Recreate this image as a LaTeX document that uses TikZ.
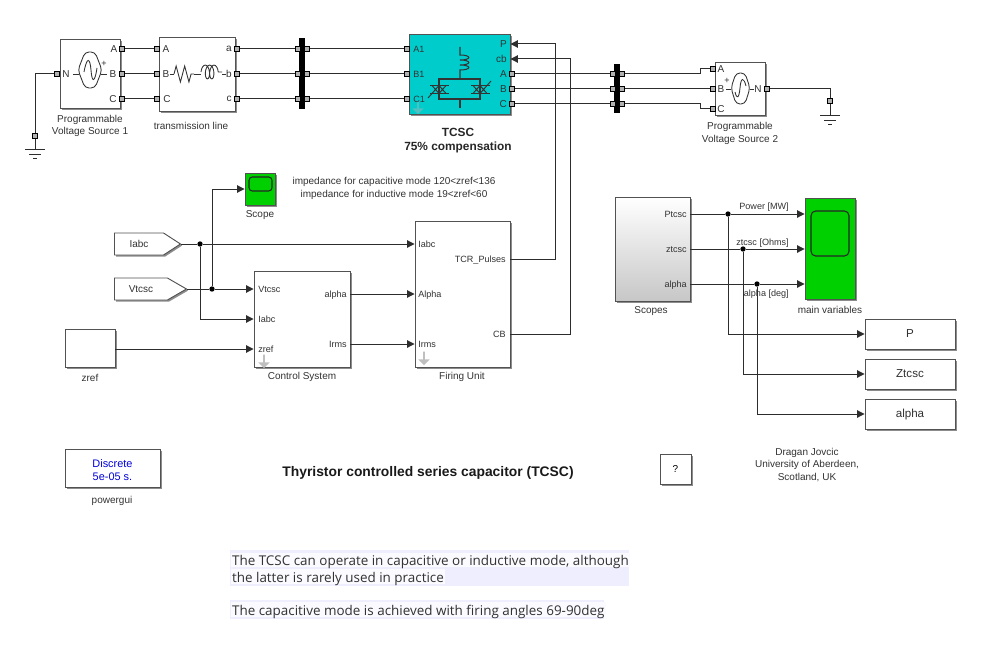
\documentclass[tikz,border=0pt]{standalone}
\usepackage{fontspec}
\setmainfont{Liberation Sans}
\newfontfamily\notefont{Open Sans}
\usetikzlibrary{arrows.meta,calc,shadows,shapes.symbols,shapes.arrows,decorations.pathmorphing}
\definecolor{tcscfill}{RGB}{0,204,204}
\definecolor{scopefill}{RGB}{0,208,0}
\definecolor{wirecol}{RGB}{45,45,45}
\definecolor{textcol}{RGB}{50,50,50}
\definecolor{noteback}{RGB}{238,238,255}
\definecolor{noteglow}{RGB}{250,250,255}
\tikzset{
  wh/.style 2 args={minimum width=#1*0.75pt,minimum height=#2*0.75pt},
  block/.style={draw=black!68,fill=white,rectangle,inner sep=0pt,line width=0.7pt,
    drop shadow={shadow xshift=1.2pt,shadow yshift=-1.2pt,fill=black,opacity=0.45}},
  scopebox/.style={block,fill=scopefill},
  screen/.style={draw=black!85,rectangle,rounded corners=2.5pt,line width=0.8pt,inner sep=0pt},
  gotobox/.style={block,shape=signal,signal to=east,signal from=nowhere,anchor=west},
  port/.style={draw=black,fill=black!30,rectangle,line width=0.9pt,minimum size=3.4pt,inner sep=0pt},
  dot/.style={circle,fill=black,inner sep=0pt,minimum size=4pt},
  busbar/.style={fill=black,rectangle,inner sep=0pt},
  lookunder/.style={shape=single arrow,fill=black!25,rotate=-90,inner sep=0pt,
    minimum width=8.5pt,single arrow head extend=1.2pt,minimum height=10pt},
  lbl/.style={font=\fontsize{7.5}{9}\selectfont,text=textcol,inner sep=0pt,align=center},
  plbl/.style={font=\fontsize{6.8}{8}\selectfont,text=textcol,inner sep=0pt,text height=5.5pt,text depth=0.5pt},
  wire/.style={draw=wirecol,line width=0.75pt},
  sig/.style={wire,-{Triangle[length=5.5pt,width=5.5pt]}},
  icon/.style={draw=black!80,line width=0.65pt},
  notetxt/.style={font=\notefont\fontsize{10.08}{12}\selectfont,text=textcol,anchor=west,inner xsep=1pt,inner ysep=0.3pt,fill=noteglow,text height=9.5pt,text depth=1pt}
}
\begin{document}
\begin{tikzpicture}[x=0.75pt,y=-0.75pt]
  \useasboundingbox (0,0) rectangle (996,667);

  % power circuit
  \node[block,wh={60}{69}] (src1) at (90,73.5) {};
  \node[block,wh={76}{74}] (line) at (197,74) {};
  \node[busbar,wh={6}{71}] (bus1) at (302,73.5) {};
  \node[block,fill=tcscfill,wh={101}{80}] (tcsc) at (459.5,74) {};
  \node[busbar,wh={6}{49}] (bus2) at (617,88.5) {};
  \node[block,wh={50}{53}] (src2) at (740,88.5) {};

  \node[port] (s1n) at (57,74) {};
  \node[port] (s1a) at (122,49) {};
  \node[port] (s1b) at (122,74) {};
  \node[port] (s1c) at (122,99) {};
  \node[port] (la) at (157,49) {};
  \node[port] (lb) at (157,74) {};
  \node[port] (lc) at (157,99) {};
  \node[port] (loa) at (237,49) {};
  \node[port] (lob) at (237,74) {};
  \node[port] (loc) at (237,99) {};
  \node[port] (b1la) at (298,49) {};
  \node[port] (b1lb) at (298,74) {};
  \node[port] (b1lc) at (298,99) {};
  \node[port] (b1ra) at (307,49) {};
  \node[port] (b1rb) at (307,74) {};
  \node[port] (b1rc) at (307,99) {};
  \node[port] (ta1) at (407,49) {};
  \node[port] (tb1) at (407,74) {};
  \node[port] (tc1) at (407,99) {};
  \node[port] (ta) at (512,74) {};
  \node[port] (tb) at (512,89) {};
  \node[port] (tc) at (512,104) {};
  \node[port] (b2la) at (613,74) {};
  \node[port] (b2lb) at (613,89) {};
  \node[port] (b2lc) at (613,104) {};
  \node[port] (b2ra) at (622,74) {};
  \node[port] (b2rb) at (622,89) {};
  \node[port] (b2rc) at (622,104) {};
  \node[port] (s2a) at (713,69) {};
  \node[port] (s2b) at (713,89) {};
  \node[port] (s2c) at (713,109) {};
  \node[port] (s2n) at (767,89) {};
  \node[port] (gnd1) at (35,136) {};
  \node[port] (gnd2) at (830,101) {};

  \draw[wire] (s1n.west)-|(gnd1.north);
  \draw[wire] (s1a.east)--(la.west);
  \draw[wire] (s1b.east)--(lb.west);
  \draw[wire] (s1c.east)--(lc.west);
  \draw[wire] (loa.east)--(b1la.west);
  \draw[wire] (lob.east)--(b1lb.west);
  \draw[wire] (loc.east)--(b1lc.west);
  \draw[wire] (b1ra.east)--(ta1.west);
  \draw[wire] (b1rb.east)--(tb1.west);
  \draw[wire] (b1rc.east)--(tc1.west);
  \draw[wire] (ta.east)--(b2la.west);
  \draw[wire] (tb.east)--(b2lb.west);
  \draw[wire] (tc.east)--(b2lc.west);
  \draw[wire] (b2ra.east)--(700,74)--(700,69)--(s2a.west);
  \draw[wire] (b2rb.east)--(s2b.west);
  \draw[wire] (b2rc.east)--(700,104)--(700,109)--(s2c.west);
  \draw[wire] (s2n.east)-|(gnd2.north);

  % ground symbols
  \draw[wire] (gnd1.south)--(35,149) (25,149)--(45,149) (29,154)--(41,154) (33,158.5)--(37,158.5);
  \draw[wire] (gnd2.south)--(830,115) (820,115)--(840,115) (824,120)--(836,120) (828,124.5)--(832,124.5);

  % source and line icons
  \draw[icon,rounded corners=3pt] (78,70)--(85,52)--(95,52)--(102,70)--(95,88)--(85,88)--cycle;
  \draw[icon] (73,74)--(79,74) (101,74)--(107,74);
  \draw[icon] (84,72) .. controls (87,56) and (90,58) .. (91,70) .. controls (92,84) and (95,82) .. (97,68);
  \node[plbl] (s1plus) at (104,63) {+};
  \draw[icon,rounded corners=3pt] (731,88)--(736,73)--(745,73)--(750,88)--(745,104)--(736,104)--cycle;
  \draw[icon] (726,89)--(731,89) (750,89)--(754,89);
  \draw[icon] (735,92) .. controls (737,100) and (739,98) .. (740,88) .. controls (741,76) and (744,78) .. (746,86);
  \node[plbl] (s2plus) at (727,80) {+};
  \draw[icon] (170,74)--(174,74);
  \draw[icon,decorate,decoration={zigzag,segment length=6.4pt,amplitude=6pt}] (174,74)--(194,74);
  \draw[icon] (194,74)--(201,74) (222,74)--(226,74);
  \draw[icon,decorate,decoration={coil,aspect=0.45,segment length=3.3pt,amplitude=5.2pt}] (201,72)--(222,72);

  % TCSC icon
  \draw[icon,line width=0.8pt] (460,47)--(460,55) to[out=0,in=0,looseness=6] (460,60) to[out=0,in=0,looseness=6] (460,65) to[out=0,in=0,looseness=6] (460,70)--(460,79);
  \draw[icon,line width=0.8pt] (439,79) rectangle (480,99);
  \draw[icon,line width=0.8pt] (460,99)--(460,108);
  \draw[icon,line width=0.7pt] (430,85.5)--(449,85.5) (430,93.5)--(449,93.5) (471,85.5)--(490,85.5) (471,93.5)--(490,93.5);
  \draw[icon,line width=0.7pt] (432,93.5)--(439,85.5)--(446,93.5) (432,85.5)--(439,93.5)--(446,85.5);
  \draw[icon,line width=0.7pt] (473,93.5)--(480,85.5)--(487,93.5) (473,85.5)--(480,93.5)--(487,85.5) (487,85.5)--(491,81);
  \draw[icon,line width=0.7pt] (432,93.5)--(428,98);
  \node[lookunder,fill=black!30,opacity=0.45] (tdown) at (418,107) {};

  % block labels of the power circuit
  \node[lbl] (ls1n) at (66,74) {N};
  \node[lbl] (ls1a) at (114,49) {A};
  \node[lbl] (ls1b) at (113,74) {B};
  \node[lbl] (ls1c) at (113,99) {C};
  \node[lbl] (lla) at (166,49) {A};
  \node[lbl] (llb) at (166,74) {B};
  \node[lbl] (llc) at (167,99) {C};
  \node[lbl] (lloa) at (229,49) {a};
  \node[lbl] (llob) at (229,74) {b};
  \node[lbl] (lloc) at (229,99) {c};
  \node[plbl,anchor=west] (lta1) at (413,49) {A1};
  \node[plbl,anchor=west] (ltb1) at (413,74) {B1};
  \node[plbl,anchor=west] (ltc1) at (413,99) {C1};
  \node[lbl,anchor=east] (ltp) at (507,44) {P};
  \node[lbl,anchor=east] (ltcb) at (507,59) {cb};
  \node[lbl,anchor=east] (lta) at (507,74) {A};
  \node[lbl,anchor=east] (ltb) at (507,89) {B};
  \node[lbl,anchor=east] (ltc) at (507,104) {C};
  \node[lbl] (ls2a) at (721,69) {A};
  \node[lbl] (ls2b) at (721,89) {B};
  \node[lbl] (ls2c) at (721,109) {C};
  \node[lbl] (ls2n) at (758,89) {N};
  \node[lbl] (caps1) at (90,126) {Programmable\\[0.6pt]Voltage Source 1};
  \node[lbl] (capline) at (191,126) {transmission line};
  \node[lbl,font=\fontsize{8.9}{10.5}\selectfont\bfseries,text=black!85] (captcsc) at (458,140.5) {TCSC\\75\% compensation};
  \node[lbl] (caps2) at (740,133.5) {Programmable\\[0.6pt]Voltage Source 2};

  % control part
  \node[scopebox,wh={30}{32}] (scope) at (260,189) {};
  \node[screen,wh={23}{14}] (scr) at (260.5,184) {};
  \node[gotobox,wh={66}{22},signal pointer angle=66] (iabc) at (114,244) {};
  \node[gotobox,wh={72}{22},signal pointer angle=60] (vtcsc) at (114,289) {};
  \node[block,wh={50}{38}] (zref) at (90,348) {};
  \node[block,wh={96}{96}] (cs) at (302,319) {};
  \node[block,wh={95}{146}] (fu) at (462.5,294) {};
  \node[dot] (jiabc) at (200,244) {};
  \node[dot] (jvt) at (212,289) {};
  \node[lookunder] (csdown) at (264,361) {};
  \node[lookunder] (fudown) at (424,358) {};

  \node[lbl] (tiabc) at (139,244) {Iabc};
  \node[lbl] (tvtcsc) at (141,289) {Vtcsc};
  \node[plbl,anchor=west] (csvt) at (258,289) {Vtcsc};
  \node[plbl,anchor=west] (csia) at (258,319) {Iabc};
  \node[plbl,anchor=west] (cszr) at (258,349) {zref};
  \node[plbl,anchor=east] (csal) at (347,294) {alpha};
  \node[plbl,anchor=east] (csir) at (347,344) {Irms};
  \node[plbl,anchor=west] (fuia) at (418,244) {Iabc};
  \node[plbl,anchor=west] (fual) at (418,294) {Alpha};
  \node[plbl,anchor=west] (fuir) at (418,344) {Irms};
  \node[plbl,anchor=east] (futcr) at (506,259) {TCR\_Pulses};
  \node[plbl,anchor=east] (fucb) at (506,334) {CB};

  \draw[wire] (iabc.east)--(jiabc);
  \draw[wire] (vtcsc.east)--(jvt);
  \draw[sig] (jiabc)--(fu.west |- fuia);
  \draw[sig] (jvt)--(cs.west |- csvt);
  \draw[sig] (jvt)|-(scope.west);
  \draw[sig] (jiabc)|-(cs.west |- csia);
  \draw[sig] (zref.east |- cszr)--(cs.west |- cszr);
  \draw[sig] (cs.east |- csal)--(fu.west |- fual);
  \draw[sig] (cs.east |- csir)--(fu.west |- fuir);
  \draw[sig] (fu.east |- futcr)--(555,259)--(555,44)--(tcsc.east |- ltp);
  \draw[sig] (fu.east |- fucb)--(570,334)--(570,59)--(tcsc.east |- ltcb);

  \node[lbl] (capscope) at (260,215) {Scope};
  \node[lbl] (capzref) at (90,378) {zref};
  \node[lbl] (capcs) at (302,377) {Control System};
  \node[lbl] (capfu) at (462,377) {Firing Unit};
  \node[lbl] (imped) at (394,188.5) {impedance for capacitive mode 120<zref<136\\[0.8pt]impedance for inductive mode 19<zref<60};

  % measurements
  \node[block,top color=white,bottom color=black!22,wh={75}{104}] (scopes) at (652.5,249) {};
  \node[scopebox,wh={50}{101}] (mainv) at (830,248.5) {};
  \node[screen,wh={38}{45},rounded corners=3.5pt] (mscr) at (830,233.5) {};
  \node[block,wh={90}{30}] (outp) at (910,334) {};
  \node[block,wh={90}{30}] (outz) at (910,374) {};
  \node[block,wh={90}{30}] (outa) at (910,414) {};
  \node[dot] (jp) at (728,214) {};
  \node[dot] (jz) at (743,249) {};
  \node[dot] (ja) at (757,284) {};
  \node[plbl,anchor=east] (spt) at (687,214) {Ptcsc};
  \node[plbl,anchor=east] (szt) at (687,249) {ztcsc};
  \node[plbl,anchor=east] (sal) at (687,284) {alpha};

  \draw[wire] (scopes.east |- spt)--(jp);
  \draw[wire] (scopes.east |- szt)--(jz);
  \draw[wire] (scopes.east |- sal)--(ja);
  \draw[sig] (jp)--(mainv.west |- jp);
  \draw[sig] (jz)--(mainv.west |- jz);
  \draw[sig] (ja)--(mainv.west |- ja);
  \draw[sig] (jp)|-(outp.west);
  \draw[sig] (jz)|-(outz.west);
  \draw[sig] (ja)|-(outa.west);

  \node[plbl,anchor=east] (npow) at (789,206) {Power [MW]};
  \node[plbl,anchor=east] (nzt) at (789,242) {ztcsc [Ohms]};
  \node[plbl,anchor=east] (nal) at (789,293) {alpha [deg]};
  \node[lbl] (capscopes) at (651,311) {Scopes};
  \node[lbl] (capmain) at (830,310) {main variables};
  \node[lbl,font=\fontsize{8.7}{10}\selectfont] (tp) at (910,334) {P};
  \node[lbl,font=\fontsize{8.7}{10}\selectfont] (tz) at (910,374) {Ztcsc};
  \node[lbl,font=\fontsize{8.7}{10}\selectfont] (ta2) at (910,414) {alpha};

  % bottom texts
  \node[block,wh={95}{38},align=center,font=\fontsize{8.2}{9.8}\selectfont,text={rgb,255:red,0;green,0;blue,220}] (pgui) at (112.5,468) {\rule{0pt}{9pt}Discrete\\5e-05 s.};
  \node[lbl] (cappgui) at (112,500.5) {powergui};
  \node[lbl,font=\fontsize{10.4}{12}\selectfont\bfseries,text=black!90] (title) at (428,473) {Thyristor controlled series capacitor (TCSC)};
  \node[block,wh={31}{30},font=\fontsize{7.5}{9}\selectfont] (help) at (675.5,469) {?};
  \node[lbl] (author) at (807,465) {Dragan Jovcic\\[0.5pt]University of Aberdeen,\\[0.5pt]Scotland, UK};

  \fill[noteback] (230,550) rectangle (629,586);
  \fill[noteback] (230,600) rectangle (604,619);
  \node[notetxt] (note1) at (230.5,560) {The TCSC can operate in capacitive or inductive mode, although};
  \node[notetxt] (note2) at (230.5,576.5) {the latter is rarely used in practice};
  \node[notetxt] (note3) at (230.5,609.5) {The capacitive mode is achieved with firing angles 69-90deg};
\end{tikzpicture}
\end{document}
